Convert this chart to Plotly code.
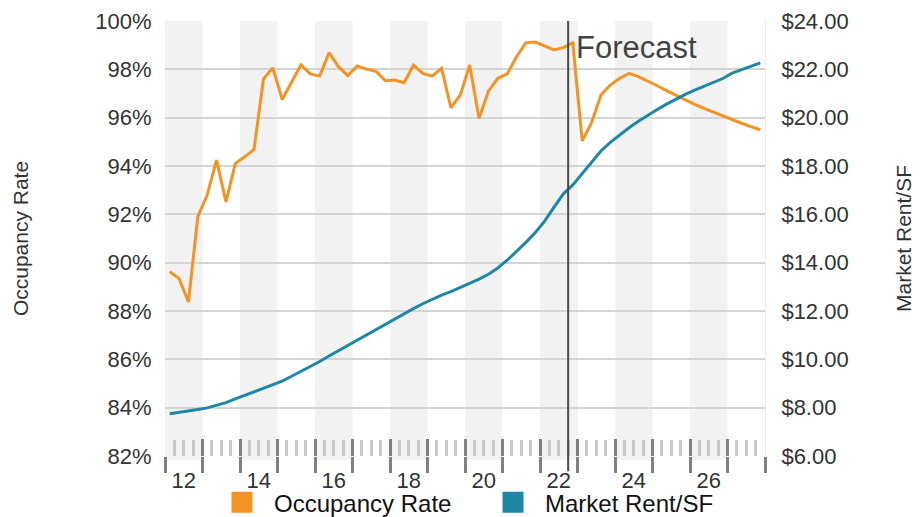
import plotly.graph_objects as go

# ---------------- data ----------------
years = list(range(2012, 2028))
quarters = [f"{y}Q{q}" for y in years for q in range(1, 5)]

occupancy = [
    89.62, 89.35, 88.38, 91.90, 92.80, 94.24, 92.52, 94.10,
    94.38, 94.69, 97.60, 98.06, 96.75, 97.49, 98.18, 97.81,
    97.72, 98.69, 98.11, 97.74, 98.14, 98.01, 97.92, 97.53,
    97.56, 97.45, 98.17, 97.83, 97.72, 98.05, 96.41, 96.94,
    98.18, 95.97, 97.10, 97.63, 97.81, 98.52, 99.10, 99.13,
    98.96, 98.80, 98.90, 99.10, 95.04, 95.79, 96.94, 97.35,
    97.63, 97.83, 97.70, 97.52, 97.32, 97.12, 96.92, 96.73,
    96.55, 96.38, 96.22, 96.06, 95.91, 95.77, 95.63, 95.50,
]

rent = [
    7.75, 7.80, 7.86, 7.92, 7.99, 8.09, 8.21, 8.36,
    8.51, 8.66, 8.80, 8.94, 9.10, 9.30, 9.50, 9.70,
    9.91, 10.14, 10.36, 10.58, 10.81, 11.03, 11.25, 11.47,
    11.68, 11.89, 12.10, 12.30, 12.49, 12.66, 12.80, 12.97,
    13.14, 13.32, 13.52, 13.78, 14.10, 14.45, 14.84, 15.25,
    15.72, 16.30, 16.85, 17.22, 17.68, 18.18, 18.62, 18.98,
    19.30, 19.58, 19.85, 20.10, 20.34, 20.56, 20.77, 20.96,
    21.14, 21.31, 21.47, 21.62, 21.84, 21.98, 22.12, 22.27,
]

year_labels = ["12", "14", "16", "18", "20", "22", "24", "26"]
label_years = [2012, 2014, 2016, 2018, 2020, 2022, 2024, 2026]
shaded_years = [2012, 2014, 2016, 2018, 2020, 2022, 2024, 2026]
forecast_start = "2022Q4"   # forecast begins at the start of this quarter

occ_ticks = list(range(82, 101, 2))
rent_ticks = list(range(6, 25, 2))

# ---------------- helpers ----------------
def q_mid(label):
    y, q = label.split("Q")
    return int(y) + (int(q) - 0.5) / 4

def q_start(label):
    y, q = label.split("Q")
    return int(y) + (int(q) - 1) / 4

x = [q_mid(q) for q in quarters]
x_lo, x_hi = years[0], years[-1] + 1
fc_x = q_start(forecast_start)

ORANGE = "#F39325"
TEAL = "#1F87A5"
FONT = "Liberation Sans"

fig = go.Figure()

fig.add_trace(go.Scatter(
    x=x, y=occupancy, mode="lines", name="Occupancy Rate",
    line=dict(color=ORANGE, width=3), showlegend=False, yaxis="y",
))
fig.add_trace(go.Scatter(
    x=x, y=rent, mode="lines", name="Market Rent/SF",
    line=dict(color=TEAL, width=3), showlegend=False, yaxis="y2",
))
# legend entries (square swatches)
for nm, col in [("Occupancy Rate", ORANGE), ("Market Rent/SF", TEAL)]:
    fig.add_trace(go.Scatter(
        x=[None], y=[None], mode="markers", name=nm,
        marker=dict(symbol="square", size=16, color=col,
                    line=dict(color=col, width=5)),
        showlegend=True,
    ))
# empty traces to carry the helper axes
fig.add_trace(go.Scatter(x=[], y=[], xaxis="x2", yaxis="y", showlegend=False, hoverinfo="skip"))
fig.add_trace(go.Scatter(x=[], y=[], xaxis="x3", yaxis="y", showlegend=False, hoverinfo="skip"))

shapes = []
for yr in shaded_years:
    shapes.append(dict(type="rect", xref="x", yref="paper", x0=yr, x1=yr + 1,
                       y0=-0.01, y1=1, fillcolor="#f2f2f2", line=dict(width=0),
                       layer="below"))
shapes.append(dict(type="line", xref="x", yref="paper", x0=fc_x, x1=fc_x,
                   y0=-0.035, y1=1, line=dict(color="#4a4a4a", width=2),
                   layer="above"))

quarter_minor = [yr + k / 4 for yr in years for k in (1, 2, 3)]
major_vals = list(range(x_lo, x_hi + 1))

# the page body adds an 8px offset, so the figure is 8px smaller than the window
fig.update_layout(
    width=912, height=509,
    margin=dict(l=157, r=155, t=13, b=61, autoexpand=False),
    paper_bgcolor="white", plot_bgcolor="white",
    font=dict(family=FONT, size=22, color="#333333"),
    shapes=shapes,
    showlegend=True,
    legend=dict(orientation="h", x=0.075, xanchor="left", y=-0.107, yanchor="middle",
                font=dict(size=24, color="#111111", family=FONT),
                bgcolor="rgba(0,0,0,0)", itemwidth=54, entrywidth=202,
                tracegroupgap=0),
    annotations=[dict(x=fc_x, y=0.94, xref="x", yref="paper", text="Forecast",
                      showarrow=False, xanchor="left", yanchor="middle", xshift=6,
                      font=dict(size=31, color="#444444", family=FONT))],
    xaxis=dict(range=[x_lo, x_hi], tickmode="array", tickvals=major_vals,
               ticktext=[""] * len(major_vals), ticks="inside", ticklen=17,
               tickwidth=3, tickcolor="#808080", showgrid=False, zeroline=False,
               showline=False, automargin=False,
               minor=dict(tickmode="array", tickvals=quarter_minor, ticks="inside",
                          ticklen=16, tickwidth=3, tickcolor="#c8c8c8", showgrid=False)),
    xaxis2=dict(overlaying="x", anchor="y", range=[x_lo, x_hi], tickmode="array",
                tickvals=major_vals, ticks="outside", ticklen=16, tickwidth=3,
                tickcolor="#808080", showticklabels=False, showgrid=False,
                zeroline=False, showline=False, automargin=False),
    xaxis3=dict(overlaying="x", anchor="y", range=[x_lo, x_hi], tickmode="array",
                tickvals=[y + 0.5 for y in label_years], ticktext=year_labels,
                ticks="outside", ticklen=5, tickcolor="rgba(0,0,0,0)",
                showgrid=False, zeroline=False, showline=False, automargin=False,
                tickfont=dict(size=22, color="#333333")),
    yaxis=dict(range=[82, 100], tickmode="array", tickvals=occ_ticks,
               ticktext=[f"{v}%" for v in occ_ticks], showgrid=True,
               gridcolor="#d4d4d4", gridwidth=1.5, zeroline=False, automargin=False,
               ticks="outside", ticklen=8, tickcolor="rgba(0,0,0,0)",
               title=dict(text="Occupancy Rate", standoff=60,
                          font=dict(size=21, color="#333333"))),
    yaxis2=dict(range=[6, 24], overlaying="y", side="right", tickmode="array",
                tickvals=rent_ticks, ticktext=[f"${v:.2f}" for v in rent_ticks],
                showgrid=False, zeroline=False, showline=True, linecolor="#e8e8e8",
                linewidth=1, ticks="outside", ticklen=11, tickcolor="rgba(0,0,0,0)",
                automargin=False,
                title=dict(text="Market Rent/SF", standoff=48,
                           font=dict(size=21, color="#333333"))),
)

fig.write_html("out.html")
